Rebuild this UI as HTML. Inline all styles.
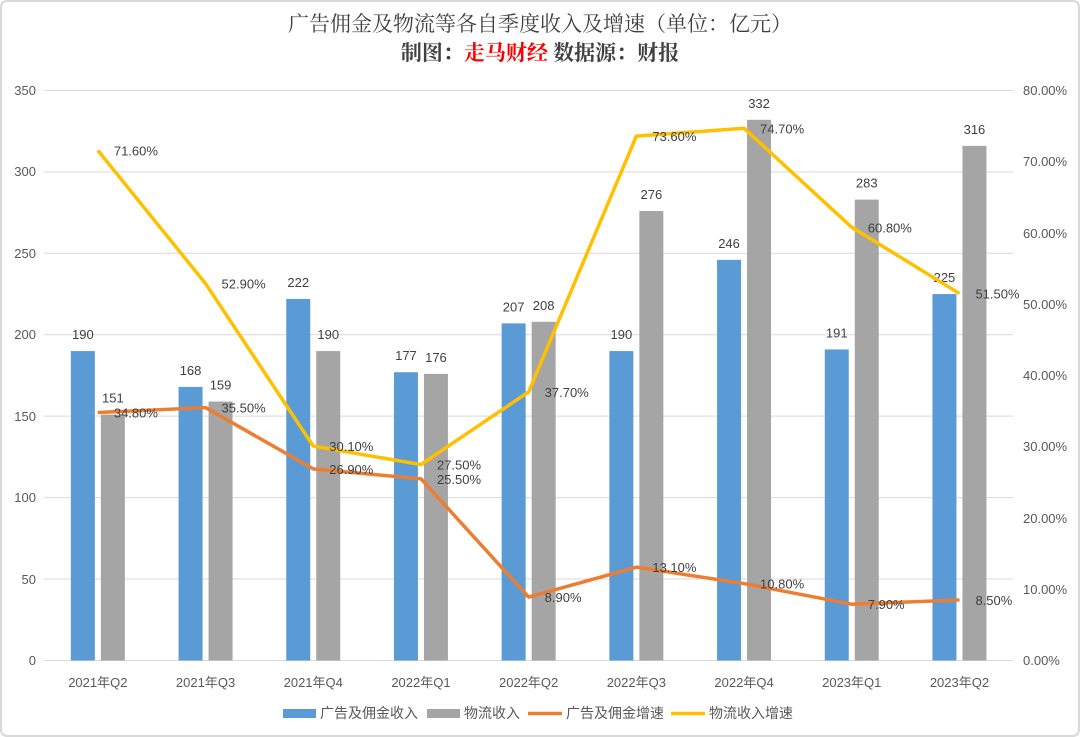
<!DOCTYPE html>
<html><head><meta charset="utf-8"><style>
body{margin:0;background:#fff}
svg{display:block;font-family:"Liberation Sans","Noto Sans CJK SC",sans-serif}
</style></head><body>
<svg width="1080" height="737" viewBox="0 0 1080 737">
<rect x="1" y="1" width="1078" height="735" rx="6" fill="#fff" stroke="#d9d9d9" stroke-width="2"/>
<text x="540" y="31" text-anchor="middle" font-size="21" fill="#404040" font-family="Liberation Serif,Noto Serif CJK SC,serif">广告佣金及物流等各自季度收入及增速（单位：亿元）</text>
<text x="540" y="60" text-anchor="middle" font-size="21" fill="#404040" font-weight="bold" font-family="Liberation Serif,Noto Serif CJK SC,serif">制图：<tspan fill="#ff0000">走马财经</tspan>  数据源：财报</text>
<g stroke="#d9d9d9" stroke-width="1">
<line x1="44" x2="1013" y1="90.5" y2="90.5"/><line x1="44" x2="1013" y1="171.9" y2="171.9"/><line x1="44" x2="1013" y1="253.3" y2="253.3"/><line x1="44" x2="1013" y1="334.7" y2="334.7"/><line x1="44" x2="1013" y1="416.1" y2="416.1"/><line x1="44" x2="1013" y1="497.6" y2="497.6"/><line x1="44" x2="1013" y1="579" y2="579"/><line x1="44" x2="1013" y1="660.5" y2="660.5"/>
</g>
<g font-size="13" fill="#595959" text-anchor="end">
<text x="36" y="95">350</text><text x="36" y="176">300</text><text x="36" y="258">250</text><text x="36" y="339">200</text><text x="36" y="421">150</text><text x="36" y="502">100</text><text x="36" y="584">50</text><text x="36" y="665">0</text>
</g>
<g font-size="13" fill="#595959">
<text x="1023" y="95">80.00%</text><text x="1023" y="166">70.00%</text><text x="1023" y="238">60.00%</text><text x="1023" y="309">50.00%</text><text x="1023" y="380">40.00%</text><text x="1023" y="451">30.00%</text><text x="1023" y="523">20.00%</text><text x="1023" y="594">10.00%</text><text x="1023" y="665">0.00%</text>
</g>
<g id="bars"></g>
<g id="labels" font-size="13" fill="#404040"></g>
<polyline id="ol" fill="none" stroke="#ed7d31" stroke-width="3.5" stroke-linejoin="round"/>
<polyline id="yl" fill="none" stroke="#ffc000" stroke-width="3.5" stroke-linejoin="round"/>
<g id="llab" font-size="13" fill="#404040"></g>
<g font-size="13" fill="#595959" text-anchor="middle" id="xl"></g>
<rect x="283" y="709" width="33" height="9" fill="#5b9bd5"/><text x="320" y="718" font-size="14" fill="#595959">广告及佣金收入</text>
<rect x="427" y="709" width="33" height="9" fill="#a5a5a5"/><text x="464" y="718" font-size="14" fill="#595959">物流收入</text>
<line x1="528" x2="562" y1="713.5" y2="713.5" stroke="#ed7d31" stroke-width="3.5"/><text x="566" y="718" font-size="14" fill="#595959">广告及佣金增速</text>
<line x1="671" x2="705" y1="713.5" y2="713.5" stroke="#ffc000" stroke-width="3.5"/><text x="709" y="718" font-size="14" fill="#595959">物流收入增速</text>
</svg>
<script>
var cats=["2021年Q2","2021年Q3","2021年Q4","2022年Q1","2022年Q2","2022年Q3","2022年Q4","2023年Q1","2023年Q2"];
var a=[190,168,222,177,207,190,246,191,225],b=[151,159,190,176,208,276,332,283,316];
var o=[34.8,35.5,26.9,25.5,8.9,13.1,10.8,7.9,8.5],y=[71.6,52.9,30.1,27.5,37.7,73.6,74.7,60.8,51.5];
var ns="http://www.w3.org/2000/svg";
function el(t,at,p,tx){var e=document.createElementNS(ns,t);for(var k in at)e.setAttribute(k,at[k]);if(tx!=null)e.textContent=tx;document.getElementById(p).appendChild(e);}
var Y=function(v){return 660.5-v*570/350},P=function(v){return 660.5-v*7.125};
var op=[],yp=[];
for(var i=0;i<9;i++){var c=44+107.7*(i+0.5);
el("rect",{x:c-27,y:Y(a[i]),width:24,height:660.5-Y(a[i]),fill:"#5b9bd5"},"bars");
el("rect",{x:c+3,y:Y(b[i]),width:24,height:660.5-Y(b[i]),fill:"#a5a5a5"},"bars");
el("text",{x:c-15,y:Y(a[i])-12,"text-anchor":"middle"},"labels",a[i]);
el("text",{x:c+15,y:Y(b[i])-12,"text-anchor":"middle"},"labels",b[i]);
el("text",{x:c,y:687},"xl",cats[i]);
op.push(c+","+P(o[i]));yp.push(c+","+P(y[i]));
el("text",{x:c+16,y:P(o[i])+5},"llab",o[i].toFixed(2)+"%");
el("text",{x:c+16,y:P(y[i])+5},"llab",y[i].toFixed(2)+"%");
}
document.getElementById("ol").setAttribute("points",op.join(" "));
document.getElementById("yl").setAttribute("points",yp.join(" "));
</script>
</body></html>
